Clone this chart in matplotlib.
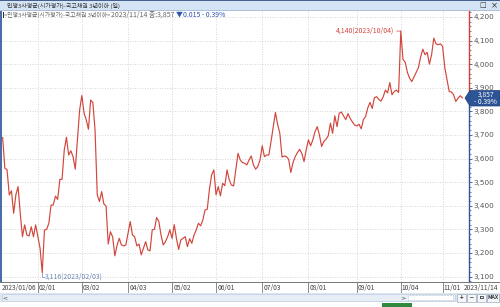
import matplotlib
matplotlib.use("Agg")
import matplotlib.pyplot as plt
from matplotlib.patches import Rectangle, Polygon
from matplotlib.lines import Line2D
import matplotlib.transforms as mtransforms

plt.rcParams['font.family'] = ['Noto Sans CJK KR', 'DejaVu Sans']
NARROW = ['Liberation Sans Narrow', 'Noto Sans CJK KR', 'DejaVu Sans']

# ---------------- data ----------------
values = [
    3689, 3559, 3552, 3446, 3463, 3368, 3446, 3481, 3368, 3269,
    3319, 3276, 3272, 3311, 3269, 3319, 3269, 3220, 3116, 3297,
    3300, 3326, 3403, 3403, 3441, 3427, 3512, 3512, 3636, 3690,
    3615, 3633, 3608, 3555, 3679, 3806, 3867, 3792, 3764, 3724,
    3848, 3837, 3721, 3446, 3418, 3460, 3408, 3399, 3238, 3290,
    3268, 3188, 3232, 3262, 3234, 3230, 3234, 3284, 3333, 3276,
    3269, 3230, 3238, 3192, 3220, 3248, 3213, 3209, 3298, 3300,
    3350, 3333, 3276, 3234, 3248, 3269, 3298, 3262, 3320, 3262,
    3215, 3255, 3262, 3269, 3227, 3260, 3241, 3276, 3298, 3326,
    3315, 3340, 3382, 3385, 3470, 3531, 3552, 3446, 3481, 3442,
    3495, 3485, 3552, 3510, 3488, 3484, 3552, 3622, 3594, 3583,
    3580, 3573, 3594, 3611, 3573, 3555, 3566, 3594, 3654, 3608,
    3615, 3615, 3672, 3735, 3795, 3745, 3707, 3606, 3611, 3608,
    3597, 3541, 3583, 3608, 3625, 3639, 3622, 3587, 3637, 3679,
    3654, 3679, 3714, 3735, 3700, 3651, 3672, 3682, 3696, 3750,
    3707, 3781, 3735, 3792, 3797, 3780, 3765, 3790, 3770, 3755,
    3742, 3738, 3745, 3726, 3765, 3778, 3815, 3838, 3812, 3858,
    3862, 3850, 3843, 3862, 3890, 3878, 3922, 3870, 3884, 3890,
    3880, 4140, 4020, 4008, 3965, 3940, 3926, 3945, 3965, 3985,
    4030, 4063, 4040, 4050, 4000, 4040, 4110, 4086, 4082, 4086,
    4075, 3985, 3935, 3884, 3882, 3870, 3842, 3855, 3866, 3857,
]
month_idx = [16, 36, 57, 77, 97, 118, 139, 161, 181, 200]
month_labels = ["02/01", "03/02", "04/03", "05/02", "06/01", "07/03",
                "08/01", "09/01", "10/04", "11/01"]
first_label = "2023/01/06"
last_label = "2023/11/14"
y_ticks = [3100, 3200, 3300, 3400, 3500, 3600, 3700, 3800, 3900, 4000, 4100, 4200]
title = "민평3사평균(시가평가)-국고채권 3년이하 (일)"
info_name = "<민평3사평균(시가평가)-국고채권 3년이하>"
info_close = "2023/11/14 종:3,857"
info_chg = "▼0.015 - 0.39%"
max_label = "4,140(2023/10/04)"
min_label = "3,116(2023/02/03)"
last_value = "3,857"
last_pct = "- 0.39%"

W, H = 500, 307
def fx(px): return px / W
def fy(py): return 1 - py / H

fig = plt.figure(figsize=(5, 3.07), dpi=100)
fig.patch.set_facecolor("white")

# plot area
L, R, T, B = 2, 469, 11, 282
ax = fig.add_axes([fx(L), fy(B), fx(R) - fx(L), fy(T) - fy(B)])
ax.set_facecolor("white")
x = list(range(len(values)))
ax.plot(x, values, color="#d2463c", lw=0.85, zorder=3)
ax.set_xlim(-0.3, 212)
ax.set_ylim(3077, 4225)

ax.set_xticks(month_idx)
ax.set_xticklabels([])
ax.set_yticks(y_ticks)
ax.set_yticks(range(3080, 4225, 20), minor=True)
ax.yaxis.tick_right()
ax.set_yticklabels([f"{v:,}" for v in y_ticks], fontsize=5.2, color="#555555",
                   family=['DejaVu Sans'])
ax.tick_params(axis='y', which='major', length=2.5, width=0.6, color="#2f5597", pad=0.5)
ax.tick_params(axis='y', which='minor', length=1.2, width=0.5, color="#2f5597")
ax.tick_params(axis='x', length=0)
ax.grid(True, which='major', linestyle=(0, (1, 2)), color="#c8c8c8", lw=0.6)
for s in ax.spines.values():
    s.set_visible(False)

# right axis line: red above current value, blue below
bt = mtransforms.blended_transform_factory(ax.transAxes, ax.transData)
ax.add_line(Line2D([1, 1], [3874, 4225], transform=bt, color="#e03a32", lw=1.0, clip_on=False))
ax.add_line(Line2D([1, 1], [3077, 3874], transform=bt, color="#2f5597", lw=1.0, clip_on=False))

# max / min annotations
ymax = max(values); imax = values.index(ymax)
ymin = min(values); imin = values.index(ymin)
ax.annotate(max_label, xy=(imax, ymax), xytext=(imax - 3.2, ymax), textcoords='data',
            ha='right', va='center', fontsize=5.0, color="#d2463c", family=NARROW,
            arrowprops=dict(arrowstyle='-', color="#d2463c", lw=0.5, shrinkA=0, shrinkB=0))
ax.plot([imin, imin, imin + 1], [ymin, ymin - 18, ymin - 18], color="#6f86b8", lw=0.5,
        clip_on=False)
ax.text(imin + 1.2, ymin - 18, min_label, ha='left', va='center', fontsize=5.0,
        color="#6f86b8", family=NARROW, clip_on=False)

# left border
fig.add_artist(Rectangle((0, fy(B)), fx(2), fy(T) - fy(B), transform=fig.transFigure,
                         color="#4a6ea8", lw=0))

# title bar
fig.add_artist(Rectangle((0, fy(10)), 1, fy(0) - fy(10), transform=fig.transFigure,
                         color="#d5e4f4", lw=0))
fig.add_artist(Rectangle((0, fy(1)), 1, fy(0) - fy(1), transform=fig.transFigure,
                         color="#45618f", lw=0))
fig.add_artist(Line2D([0, 1], [fy(10), fy(10)], transform=fig.transFigure,
                      color="#9fb6d3", lw=0.6))
fig.text(fx(7), fy(5.5), title, fontsize=4.3, color="#333333", va='center', ha='left')
fig.text(fx(483), fy(5.5), "□", fontsize=5.0, color="#333333", va='center', ha='center',
         family=['DejaVu Sans'])
fig.text(fx(494), fy(5.5), "×", fontsize=6.0, color="#333333", va='center', ha='center',
         family=['DejaVu Sans'])

# info line
fig.add_artist(Rectangle((fx(2.5), fy(17.5)), fx(1.5), fy(12.5) - fy(17.5),
                         transform=fig.transFigure, color="#333333", lw=0))
fig.canvas.draw()
def next_x(t):
    bb = t.get_window_extent()
    return bb.x1 / (fig.dpi * 5)
t1 = fig.text(fx(4.5), fy(15), info_name, fontsize=4.2, color="#666666", va='center', ha='left')
fig.canvas.draw()
t2 = fig.text(next_x(t1), fy(15), info_close, fontsize=5.0, color="#666666", va='center',
              ha='left', family=NARROW)
fig.canvas.draw()
fig.text(next_x(t2) + fx(2), fy(15), info_chg, fontsize=5.0, color="#2f56b0",
         va='center', ha='left', family=NARROW)

# current value box
box = Polygon([(fx(465), fy(98)), (fx(470), fy(90.5)), (fx(500), fy(90.5)),
               (fx(500), fy(106)), (fx(470), fy(106))], closed=True,
              transform=fig.transFigure, facecolor="#2d5595", edgecolor="#1d3f78", lw=0.5,
              zorder=5)
fig.add_artist(box)
fig.text(fx(486), fy(94.5), last_value, fontsize=4.8, color="white", ha='center', va='center',
         family=NARROW, zorder=6)
fig.text(fx(485), fy(102), last_pct, fontsize=4.8, color="white", ha='center', va='center',
         family=NARROW, zorder=6)

# x axis line and labels
fig.add_artist(Line2D([0, 1], [fy(B), fy(B)], transform=fig.transFigure,
                      color="#777777", lw=0.7))
xt = mtransforms.blended_transform_factory(ax.transData, fig.transFigure)
fig.text(fx(2), fy(288), first_label, fontsize=4.8, color="#444444", ha='left', va='center',
         family=NARROW)
for i, lab in zip(month_idx, month_labels):
    ax.add_line(Line2D([i, i], [fy(B), fy(292)], transform=xt, color="#777777", lw=0.6,
                       clip_on=False))
    ax.text(i + 0.5, fy(288), lab, transform=xt, fontsize=4.8, color="#444444", ha='left',
            va='center', family=NARROW, clip_on=False)
fig.text(fx(498), fy(288), last_label, fontsize=4.8, color="#444444", ha='right', va='center',
         family=NARROW)

# scrollbar area
fig.add_artist(Rectangle((0, fy(302)), 1, fy(293) - fy(302), transform=fig.transFigure,
                         color="#dbe6f2", lw=0))
fig.add_artist(Rectangle((fx(2), fy(301)), fx(453), fy(294) - fy(301), transform=fig.transFigure,
                         facecolor="#e6edf5", edgecolor="#b8c8dc", lw=0.4))
fig.text(fx(5), fy(297.5), "<", fontsize=4.5, color="#444444", ha='center', va='center',
         family=['DejaVu Sans'])
fig.text(fx(403), fy(297.5), ">", fontsize=4.5, color="#444444", ha='center', va='center',
         family=['DejaVu Sans'])
fig.add_artist(Rectangle((fx(408), fy(300)), fx(45), fy(295) - fy(300), transform=fig.transFigure,
                         facecolor="white", edgecolor="#8899aa", lw=0.4, linestyle=':'))
for bx, lab, w in [(457, "+", 9), (467, "−", 9), (477, "ㅁ", 9), (487, "MAX", 12)]:
    fig.add_artist(Rectangle((fx(bx), fy(301.5)), fx(w), fy(294) - fy(301.5),
                             transform=fig.transFigure, facecolor="#f4f6f9",
                             edgecolor="#8a9ab0", lw=0.4))
    fig.text(fx(bx + w / 2), fy(297.8), lab, fontsize=3.8 if lab == "MAX" else 4.5,
             color="#333333", ha='center', va='center', weight='bold')
fig.add_artist(Rectangle((fx(382), 0), fx(30), fy(303), transform=fig.transFigure,
                         color="#2f8a3e", lw=0))

fig.savefig("out.png", dpi=100)
